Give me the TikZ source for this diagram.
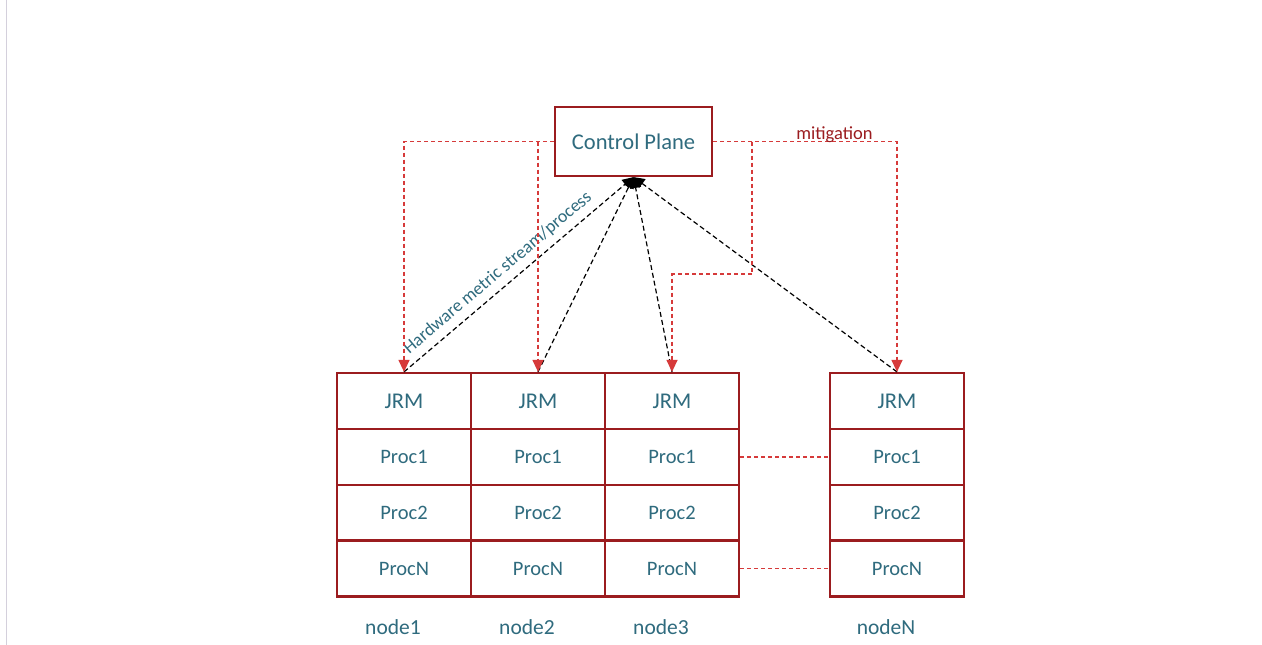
\documentclass[tikz,border=0pt]{standalone}
\usepackage{fontspec}
\setmainfont{Carlito}
\usetikzlibrary{arrows.meta}
\definecolor{boxred}{HTML}{9B1C1F}
\definecolor{linkred}{HTML}{D63A3A}
\definecolor{labteal}{HTML}{2F6B7E}
\definecolor{edgegrey}{HTML}{D4D0DC}
\begin{document}
\begin{tikzpicture}[
	x=1pt, y=-1pt,
	every node/.style={text=labteal, font=\fontsize{20.5}{24}\selectfont},
	cell/.style={rectangle, draw=boxred, line width=2.2pt, minimum width=134pt, minimum height=56pt, inner sep=0pt},
	plane/.style={rectangle, draw=boxred, line width=2.2pt, minimum width=157pt, minimum height=69pt, font=\fontsize{22.5}{26}\selectfont},
	mitig/.style={draw=linkred, line width=1.2pt, dash pattern=on 4pt off 3pt, -{Triangle[length=12pt,width=11pt]}},
	peer/.style={draw=linkred, line width=1.2pt, dash pattern=on 4pt off 3pt},
	stream/.style={draw=black, line width=1.2pt, dash pattern=on 5pt off 3pt, -{Triangle[length=11pt,width=11pt]}},
]
\useasboundingbox (0,0) rectangle (1262,645);
\fill[white] (0,0) rectangle (1262,645);
\draw[edgegrey, line width=1.5pt] (6.5,0) -- (6.5,645);

\node [plane] (cp) at (633.5,141.5) {Control Plane};

% one column per machine
\foreach \c/\x in {1/404, 2/538, 3/672, N/897} {
	\node [cell, font=\fontsize{22.5}{26}\selectfont] (\c-jrm) at (\x,401) {JRM};
	\node [cell] (\c-p1) at (\x,457) {Proc1};
	\node [cell] (\c-p2) at (\x,513) {Proc2};
	\node [cell] (\c-pn) at (\x,568.5) {ProcN};
	\node [font=\fontsize{21.5}{25}\selectfont] (\c-name) at (\x-11,627) {node\c};
}

% metric streams up to the control plane
\draw [stream] (1-jrm.north) -- node [sloped, above=3pt, pos=0.45, font=\fontsize{18}{21}\selectfont] {Hardware metric stream/process} (cp.south);
\draw [stream] (2-jrm.north) -- (cp.south);
\draw [stream] (3-jrm.north) -- (cp.south);
\draw [stream] (N-jrm.north) -- (cp.south);

% mitigation back down
\coordinate (bend) at (752,274);
\draw [mitig] (cp.west) -| (1-jrm.north);
\draw [mitig] (cp.west -| 2-jrm.north) -- (2-jrm.north);
\draw [mitig] (cp.east) -| node [pos=0.33, above=-5pt, text=boxred, font=\fontsize{18.5}{22}\selectfont] {mitigation} (N-jrm.north);
\draw [mitig] (cp.east -| bend) -- (bend) -| (3-jrm.north);

% peers
\draw [peer] (3-p1.east) -- (N-p1.west);
\draw [peer] (3-pn.east) -- (N-pn.west);
\end{tikzpicture}
\end{document}
